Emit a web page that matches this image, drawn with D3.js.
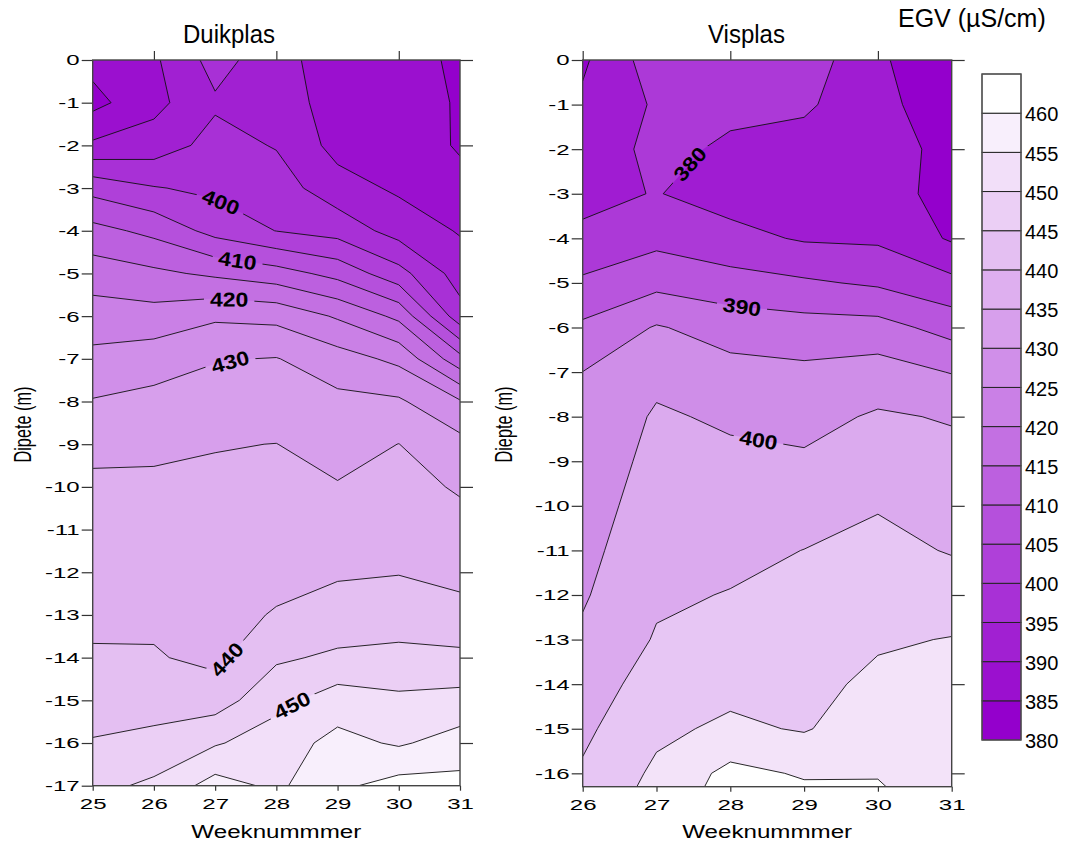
<!DOCTYPE html>
<html>
<head>
<meta charset="utf-8">
<script src="https://cdnjs.cloudflare.com/ajax/libs/d3/7.8.5/d3.min.js"></script>
<style>
  body { margin: 0; background: #fff; }
  svg { display: block; }
  text { font-family: "Liberation Sans", Arial, sans-serif; fill: #000; }
</style>
</head>
<body>
<svg id="chart" width="1074" height="844"></svg>
<script>
// ---- Duikplas: EGV (µS/cm) per week (columns) and depth (rows) ----
const duikWeeks = [25, 26, 27, 28, 29, 30, 31];
const duikDepths = [0, -1, -2, -3, -4, -5, -6, -7, -8, -9, -10, -11, -12, -13, -14, -15, -16, -17];
const duikEGV = [
  [386.5, 389.2, 396.9, 392.0, 387.1, 387.0, 384.1],
  [383.5, 388.5, 394.3, 393.5, 387.0, 387.5, 384.5],
  [390.9, 392.4, 396.7, 394.7, 388.3, 388.3, 384.4],
  [403.3, 400.3, 398.9, 397.3, 392.1, 389.2, 386.8],
  [411.6, 408.7, 403.3, 399.9, 398.1, 393.0, 389.6],
  [417.6, 416.0, 414.1, 412.1, 408.4, 401.8, 392.7],
  [422.3, 421.9, 424.2, 423.6, 419.4, 413.8, 397.0],
  [426.3, 427.7, 429.7, 430.2, 427.2, 423.8, 411.7],
  [430.3, 431.4, 432.3, 432.6, 431.2, 430.7, 425.5],
  [433.3, 433.7, 434.8, 435.05, 433.3, 435.05, 431.6],
  [436.3, 436.2, 435.8, 436.3, 435.3, 436.6, 434.5],
  [437.2, 437.0, 436.7, 437.6, 437.4, 438.2, 436.6],
  [438.2, 438.0, 437.6, 438.8, 439.4, 439.8, 438.7],
  [439.2, 439.1, 438.6, 440.3, 442.2, 442.7, 441.5],
  [440.4, 440.4, 438.8, 444.3, 445.8, 446.3, 446.1],
  [443.0, 443.1, 442.7, 448.5, 452.5, 451.0, 451.7],
  [445.3, 446.3, 449.5, 452.6, 456.5, 454.4, 457.1],
  [448.5, 451.0, 457.0, 454.0, 459.0, 461.9, 461.6]
];
const duikLevels = [380, 385, 390, 395, 400, 405, 410, 415, 420, 425, 430, 435, 440, 445, 450, 455, 460];
const duikLabels = [
  { level: 400, week: 27.05, depth: -3.44 },
  { level: 410, week: 27.36, depth: -4.76 },
  { level: 420, week: 27.23, depth: -5.6 },
  { level: 430, week: 27.24, depth: -7.01 },
  { level: 440, week: 27.3, depth: -14.2 },
  { level: 450, week: 28.25, depth: -15.1 }
];

// ---- Visplas ----
const visWeeks = [26, 27, 28, 29, 30, 31];
const visDepths = [0, -1, -2, -3, -4, -5, -6, -7, -8, -9, -10, -11, -12, -13, -14, -15, -16, -17];
const visEGV = [
  [374.2, 382.7, 382.0, 382.7, 376.0, 370.0],
  [375.9, 380.6, 381.0, 380.8, 376.5, 372.0],
  [377.3, 381.2, 379.3, 378.0, 377.2, 373.5],
  [378.8, 380.2, 378.0, 377.8, 378.0, 372.5],
  [380.9, 383.6, 381.5, 379.5, 379.2, 374.4],
  [385.9, 388.6, 387.0, 385.7, 384.3, 381.4],
  [390.9, 395.4, 392.9, 392.1, 391.9, 388.1],
  [395.04, 398.7, 396.6, 396.0, 397.1, 394.8],
  [395.9, 400.6, 399.3, 398.4, 400.6, 399.6],
  [396.8, 401.5, 401.0, 400.7, 402.6, 401.5],
  [397.7, 402.4, 402.4, 402.9, 404.7, 403.1],
  [398.6, 403.3, 403.8, 405.06, 406.3, 404.7],
  [399.5, 404.3, 405.2, 406.2, 407.8, 407.3],
  [400.8, 405.4, 406.9, 407.3, 409.4, 410.2],
  [402.4, 407.2, 408.6, 408.5, 411.1, 411.8],
  [404.0, 409.0, 410.9, 409.6, 412.9, 411.0],
  [405.6, 410.9, 416.4, 414.5, 414.7, 412.5],
  [407.2, 412.7, 418.0, 418.0, 417.0, 413.5]
];
const visLevels = [375, 380, 385, 390, 395, 400, 405, 410, 415];
const visLabels = [
  { level: 380, week: 27.5, depth: -2.4 },
  { level: 390, week: 28.16, depth: -5.5 },
  { level: 400, week: 28.38, depth: -8.54 }
];

// ---- colour legend ----
const legendLevels = [380, 385, 390, 395, 400, 405, 410, 415, 420, 425, 430, 435, 440, 445, 450, 455, 460];
const legendTop = 465;
const legendStep = 5;

const ramp = d3.interpolateRgb("#9400cc", "#ffffff");
const svg = d3.select("#chart");
const defs = svg.append("defs");

function drawPanel(p) {
  const x = d3.scaleLinear().domain([p.weeks[0], p.weeks[p.weeks.length - 1]]).range([p.left, p.right]);
  const y = d3.scaleLinear().domain([0, p.bottomDepth]).range([p.top, p.bottom]);
  const nx = p.weeks.length, ny = p.depths.length;
  const wStep = p.weeks[1] - p.weeks[0], dStep = p.depths[1] - p.depths[0];
  const toPix = ([gx, gy]) => [x(p.weeks[0] + (gx - 0.5) * wStep), y(p.depths[0] + (gy - 0.5) * dStep)];
  const proj = d3.geoTransform({
    point(gx, gy) { const q = toPix([gx, gy]); this.stream.point(q[0], q[1]); }
  });
  const path = d3.geoPath(proj);
  const contours = d3.contours().size([nx, ny]).thresholds(p.levels)(p.values.flat());

  const clipId = p.id + "-clip", maskId = p.id + "-mask";
  defs.append("clipPath").attr("id", clipId).append("rect")
    .attr("x", p.left).attr("y", p.top).attr("width", p.right - p.left).attr("height", p.bottom - p.top);

  const g = svg.append("g").attr("clip-path", `url(#${clipId})`);
  g.append("rect").attr("x", p.left).attr("y", p.top)
    .attr("width", p.right - p.left).attr("height", p.bottom - p.top)
    .attr("fill", p.color(p.baseValue));
  g.selectAll("path.band").data(contours).join("path").attr("class", "band")
    .attr("d", path).attr("fill", d => p.color(d.value)).attr("stroke", "none");

  const lines = g.append("g").attr("mask", `url(#${maskId})`);
  lines.selectAll("path").data(contours).join("path")
    .attr("d", path).attr("fill", "none").attr("stroke", "#111").attr("stroke-width", 0.9);

  // contour labels, snapped onto their line and turned along it
  const labelG = g.append("g");
  const mask = defs.append("mask").attr("id", maskId).attr("maskUnits", "userSpaceOnUse")
    .attr("x", 0).attr("y", 0).attr("width", 1074).attr("height", 844);
  mask.append("rect").attr("width", 1074).attr("height", 844).attr("fill", "#fff");

  p.labels.forEach(lb => {
    const c = contours.find(cc => cc.value === lb.level);
    if (!c) return;
    const px = x(lb.week), py = y(lb.depth);
    let best = null;
    c.coordinates.forEach(poly => poly.forEach(ring => {
      const pts = ring.map(toPix);
      for (let k = 0; k < pts.length - 1; k++) {
        const [ax, ay] = pts[k], [bx, by] = pts[k + 1];
        const dx = bx - ax, dy = by - ay, l2 = dx * dx + dy * dy;
        if (!l2) continue;
        let t = ((px - ax) * dx + (py - ay) * dy) / l2;
        t = Math.max(0, Math.min(1, t));
        const cx = ax + t * dx, cy = ay + t * dy;
        const d = (cx - px) ** 2 + (cy - py) ** 2;
        if (!best || d < best.d) best = { d, x: cx, y: cy, pts, k };
      }
    }));
    if (!best) return;
    const n = best.pts.length - 1;
    const dist = (a) => Math.hypot(a[0] - best.x, a[1] - best.y);
    let i0 = best.k, i1 = best.k + 1, steps = 0;
    while (dist(best.pts[((i0 % n) + n) % n]) < 16 && steps++ < n) i0--;
    steps = 0;
    while (dist(best.pts[i1 % n]) < 16 && steps++ < n) i1++;
    const A = best.pts[((i0 % n) + n) % n], B = best.pts[i1 % n];
    let ang = Math.atan2(B[1] - A[1], B[0] - A[0]) * 180 / Math.PI;
    if (ang > 90) ang -= 180;
    if (ang < -90) ang += 180;
    const tr = `translate(${best.x},${best.y}) rotate(${ang})`;
    const t = labelG.append("g").attr("transform", tr).append("text")
      .attr("transform", "scale(1.15,1)")
      .attr("text-anchor", "middle").attr("dy", "0.36em")
      .attr("font-size", 20).attr("font-weight", "bold")
      .text(lb.level);
    const w = t.node().getComputedTextLength() * 1.15 + 12;
    mask.append("rect").attr("transform", tr)
      .attr("x", -w / 2).attr("y", -9).attr("width", w).attr("height", 18).attr("fill", "#000");
  });

  // axes
  const fmt = d => String(d);
  const axL = svg.append("g").attr("transform", `translate(${p.left},0)`)
    .call(d3.axisLeft(y).tickValues(p.depthTicks).tickFormat(fmt).tickSize(11).tickPadding(2).tickSizeOuter(0));
  const axR = svg.append("g").attr("transform", `translate(${p.right},0)`)
    .call(d3.axisRight(y).tickValues(p.rightTicks).tickFormat("").tickSize(13).tickSizeOuter(0));
  const axT = svg.append("g").attr("transform", `translate(0,${p.top})`)
    .call(d3.axisTop(x).tickValues(p.topTicks).tickFormat("").tickSize(9).tickSizeOuter(0));
  const axB = svg.append("g").attr("transform", `translate(0,${p.bottom})`)
    .call(d3.axisBottom(x).tickValues(p.weeks).tickFormat(fmt).tickSize(5).tickPadding(7).tickSizeOuter(0));
  [axL, axR, axT, axB].forEach(a => {
    a.attr("font-size", null).attr("font-family", null);
    a.select(".domain").remove();
    a.selectAll(".tick line").attr("stroke", "#333").attr("stroke-width", 1.2);
  });
  axL.selectAll(".tick text").attr("font-size", 15.5)
    .attr("x", -13 / 1.55).attr("transform", "scale(1.55,1)");
  axB.selectAll(".tick text").attr("font-size", 15.5)
    .attr("text-anchor", "middle").attr("transform", "scale(1.55,1)");

  // frame
  svg.append("rect").attr("x", p.left).attr("y", p.top)
    .attr("width", p.right - p.left).attr("height", p.bottom - p.top)
    .attr("fill", "none").attr("stroke", "#444").attr("stroke-width", 1.4);

  // titles
  svg.append("text").attr("x", p.titleX).attr("y", 43).attr("text-anchor", "middle")
    .attr("font-size", 26).attr("textLength", p.titleLen).attr("lengthAdjust", "spacingAndGlyphs")
    .text(p.title);
  svg.append("text").attr("transform", `translate(${p.yLabelX},424.5) rotate(-90)`)
    .attr("text-anchor", "middle").attr("font-size", 24)
    .attr("textLength", 76).attr("lengthAdjust", "spacingAndGlyphs")
    .text(p.yLabel);
  svg.append("text").attr("x", (p.left + p.right) / 2).attr("y", 837.5).attr("text-anchor", "middle")
    .attr("font-size", 17.5).attr("textLength", 170).attr("lengthAdjust", "spacingAndGlyphs")
    .text("Weeknummmer");
}

drawPanel({
  id: "duik", title: "Duikplas", titleX: 229, titleLen: 92, yLabel: "Dipete (m)", yLabelX: 31,
  weeks: duikWeeks, depths: duikDepths, values: duikEGV, levels: duikLevels, labels: duikLabels,
  left: 92.7, right: 460, top: 60, bottom: 785.7, bottomDepth: -17,
  depthTicks: d3.range(0, -18, -1), rightTicks: d3.range(0, -18, -2), topTicks: [26, 28, 30],
  color: v => ramp((v - 380) / 80), baseValue: 380
});

drawPanel({
  id: "vis", title: "Visplas", titleX: 746.5, titleLen: 77, yLabel: "Diepte (m)", yLabelX: 512,
  weeks: visWeeks, depths: visDepths, values: visEGV, levels: visLevels, labels: visLabels,
  left: 582.7, right: 951.7, top: 60, bottom: 786.7, bottomDepth: -16.3,
  depthTicks: d3.range(0, -17, -1), rightTicks: d3.range(0, -17, -2), topTicks: [26, 28, 30],
  color: v => ramp((v - 370) / 45), baseValue: 370
});

// colour legend
const ly = d3.scaleLinear().domain([380, legendTop]).range([740, 74]);
const lg = svg.append("g");
lg.selectAll("rect").data(legendLevels).join("rect")
  .attr("x", 982).attr("width", 39)
  .attr("y", d => ly(d + legendStep)).attr("height", d => ly(d) - ly(d + legendStep))
  .attr("fill", d => ramp((d - 380) / 80))
  .attr("stroke", "#222").attr("stroke-width", 1);
lg.append("rect").attr("x", 982).attr("width", 39).attr("y", ly(legendTop)).attr("height", ly(380) - ly(legendTop))
  .attr("fill", "none").attr("stroke", "#555").attr("stroke-width", 1.2);
lg.selectAll("text").data(legendLevels).join("text")
  .attr("x", 1025).attr("y", d => ly(d) + 1).attr("dy", "0.36em")
  .attr("font-size", 20).text(d => d);
svg.append("text").attr("x", 898).attr("y", 27).attr("font-size", 25).text("EGV (µS/cm)");
</script>
</body>
</html>
